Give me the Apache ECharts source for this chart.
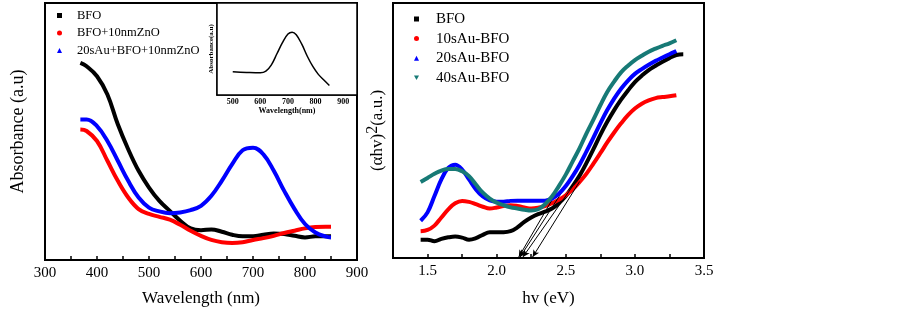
<!DOCTYPE html>
<html>
<head>
<meta charset="utf-8">
<script src="https://cdn.jsdelivr.net/npm/echarts@6/dist/echarts.min.js"></script>
<style>
html, body { margin: 0; padding: 0; background: #fff; }
#chart { width: 903px; height: 312px; }
</style>
</head>
<body>
<div id="chart"></div>
<script>
// left panel: absorbance vs wavelength (arbitrary units, 0 = bottom of frame)
const wavelength = [368, 380, 400, 420, 440, 460, 480, 500, 520, 540, 560, 580, 600, 620, 640, 660, 680, 700, 720, 740, 760, 780, 800, 820, 840, 850]
const absBFO = [0.767, 0.754, 0.715, 0.644, 0.528, 0.431, 0.347, 0.282, 0.230, 0.191, 0.153, 0.123, 0.116, 0.119, 0.110, 0.098, 0.092, 0.092, 0.098, 0.103, 0.101, 0.094, 0.088, 0.092, 0.092, 0.092]
const absBFOZnO = [0.508, 0.502, 0.463, 0.386, 0.308, 0.243, 0.198, 0.179, 0.168, 0.157, 0.137, 0.114, 0.094, 0.078, 0.069, 0.066, 0.069, 0.078, 0.085, 0.094, 0.105, 0.114, 0.123, 0.128, 0.129, 0.129]
const absAuBFOZnO = [0.547, 0.547, 0.521, 0.463, 0.386, 0.308, 0.243, 0.204, 0.189, 0.182, 0.185, 0.194, 0.211, 0.250, 0.308, 0.373, 0.427, 0.437, 0.411, 0.347, 0.269, 0.198, 0.140, 0.107, 0.091, 0.088]
const wlTicks = [300, 400, 500, 600, 700, 800, 900]

// inset: 20sAu only
const insetWavelength = [500, 550, 600, 620, 640, 660, 680, 700, 715, 730, 750, 770, 790, 810, 830, 850]
const absAu20 = [0.252, 0.245, 0.241, 0.259, 0.328, 0.448, 0.569, 0.662, 0.683, 0.655, 0.552, 0.421, 0.310, 0.224, 0.162, 0.103]
const insetTicks = [500, 600, 700, 800, 900]

// right panel: (ahv)^2 vs photon energy
const energy = [1.45, 1.5, 1.55, 1.6, 1.65, 1.7, 1.75, 1.8, 1.85, 1.9, 1.95, 2.0, 2.05, 2.1, 2.15, 2.2, 2.25, 2.3, 2.35, 2.4, 2.45, 2.5, 2.55, 2.6, 2.65, 2.7, 2.75, 2.8, 2.85, 2.9, 2.95, 3.0, 3.05, 3.1, 3.15, 3.2, 3.25, 3.3, 3.35]
const tBFO = [0.072, 0.072, 0.066, 0.075, 0.081, 0.084, 0.080, 0.072, 0.078, 0.091, 0.101, 0.101, 0.101, 0.105, 0.120, 0.142, 0.159, 0.172, 0.182, 0.194, 0.215, 0.243, 0.282, 0.323, 0.373, 0.427, 0.483, 0.534, 0.580, 0.621, 0.657, 0.690, 0.715, 0.737, 0.754, 0.770, 0.784, 0.796, 0.799]
const t10Au = [0.105, 0.110, 0.127, 0.159, 0.191, 0.215, 0.224, 0.220, 0.211, 0.201, 0.194, 0.198, 0.204, 0.207, 0.204, 0.198, 0.194, 0.197, 0.204, 0.215, 0.228, 0.246, 0.269, 0.298, 0.331, 0.370, 0.411, 0.453, 0.492, 0.528, 0.560, 0.586, 0.605, 0.618, 0.627, 0.631, 0.634, 0.638, null]
const t20Au = [0.146, 0.179, 0.243, 0.308, 0.353, 0.366, 0.347, 0.308, 0.269, 0.241, 0.226, 0.221, 0.221, 0.224, 0.225, 0.225, 0.225, 0.225, 0.225, 0.233, 0.252, 0.282, 0.321, 0.366, 0.418, 0.472, 0.528, 0.580, 0.625, 0.664, 0.696, 0.722, 0.741, 0.758, 0.773, 0.786, 0.799, 0.812, null]
const t40Au = [0.298, 0.314, 0.330, 0.343, 0.349, 0.349, 0.340, 0.321, 0.288, 0.256, 0.233, 0.217, 0.207, 0.199, 0.194, 0.189, 0.186, 0.191, 0.211, 0.241, 0.282, 0.327, 0.379, 0.431, 0.489, 0.543, 0.599, 0.651, 0.692, 0.728, 0.754, 0.776, 0.793, 0.809, 0.821, 0.832, 0.842, 0.854, null]
// tangent lines down to the energy axis (start point, intercept)
const tangentFrom = [[2.55, 0.282], [2.60, 0.300], [2.50, 0.282], [2.43, 0.255]]
const tangentTo = [2.19, 2.26, 2.17, 2.16]

const serif = 'Liberation Serif'
const zip = (xs, ys) => xs.map((x, i) => [x, ys[i]])

let chart = echarts.init(document.getElementById('chart'))

const frameAxisX = {
  axisLine: { show: true, onZero: false, lineStyle: { color: '#000', width: 2 } },
  axisTick: { inside: true, length: 4, lineStyle: { color: '#000', width: 1.5 } },
  splitLine: { show: false },
}
const frameAxisY = {
  type: 'value',
  min: 0,
  max: 1,
  axisLine: { show: true, lineStyle: { color: '#000', width: 2 } },
  axisTick: { show: false },
  axisLabel: { show: false },
  splitLine: { show: false },
}

function tauc(name, color, values, idx, symbol) {
  return {
    name: name,
    type: 'line',
    xAxisIndex: 2,
    yAxisIndex: 2,
    data: zip(energy, values),
    smooth: 0.4,
    showSymbol: false,
    symbol: symbol,
    lineStyle: { color: color, width: 4 },
    itemStyle: { color: color },
    markLine: {
      silent: true,
      symbol: ['none', 'arrow'],
      symbolSize: [5, 7],
      label: { show: false },
      lineStyle: { color: '#000', width: 1, type: 'solid' },
      data: [[{ coord: tangentFrom[idx] }, { coord: [tangentTo[idx], 0.004] }]],
    },
    z: 3 + idx,
  }
}

chart.setOption({
  animation: false,
  backgroundColor: '#fff',
  grid: [
    { left: 45, top: 3, width: 312, height: 257, show: true, borderColor: '#000', borderWidth: 2 },
    { left: 217, top: 3, width: 140, height: 92, show: true, borderColor: '#000', borderWidth: 1.5, backgroundColor: '#fff', z: 5 },
    { left: 393, top: 3, width: 311, height: 257, show: true, borderColor: '#000', borderWidth: 2 },
  ],
  legend: [
    {
      orient: 'vertical',
      left: 57,
      top: 7,
      padding: 0,
      itemWidth: 5,
      itemHeight: 5,
      itemGap: 0.5,
      data: [
        { name: 'BFO', icon: 'rect' },
        { name: 'BFO+10nmZnO', icon: 'circle' },
        { name: '20sAu+BFO+10nmZnO', icon: 'triangle' },
      ],
      textStyle: { fontFamily: serif, fontSize: 12.5, color: '#000', lineHeight: 17, padding: [0, 0, 0, 10] },
    },
    {
      orient: 'vertical',
      left: 315,
      top: 13,
      padding: 0,
      itemWidth: 3,
      itemHeight: 1,
      data: [{ name: '20sAu', icon: 'rect' }],
      textStyle: { fontFamily: serif, fontSize: 8, fontWeight: 'bold', color: '#000', padding: [0, 0, 0, 3] },
    },
    {
      orient: 'vertical',
      left: 414,
      top: 10.5,
      padding: 0,
      itemWidth: 5,
      itemHeight: 5,
      itemGap: 2.6,
      data: [
        { name: 'BFO', icon: 'rect' },
        { name: '10sAu-BFO', icon: 'circle' },
        { name: '20sAu-BFO', icon: 'triangle' },
        { name: '40sAu-BFO', icon: 'path://M0,0 L10,0 L5,9 Z' },
      ],
      textStyle: { fontFamily: serif, fontSize: 15, color: '#000', lineHeight: 17, padding: [0, 0, 0, 12] },
    },
  ],
  xAxis: [
    Object.assign({}, frameAxisX, {
      type: 'value',
      gridIndex: 0,
      min: 300,
      max: 900,
      interval: 50,
      axisLabel: {
        margin: 6,
        fontFamily: serif,
        fontSize: 15,
        color: '#000',
        formatter: (v) => (wlTicks.includes(v) ? String(v) : ''),
      },
      name: 'Wavelength (nm)',
      nameLocation: 'middle',
      nameGap: 30,
      nameTextStyle: { fontFamily: serif, fontSize: 17, color: '#000' },
    }),
    {
      type: 'value',
      gridIndex: 1,
      min: 443,
      max: 950,
      axisLine: { show: true, onZero: false, lineStyle: { color: '#000', width: 1.5 } },
      axisTick: { inside: true, length: 2, customValues: insetTicks, lineStyle: { color: '#000' } },
      splitLine: { show: false },
      axisLabel: { margin: 3, customValues: insetTicks, fontFamily: serif, fontSize: 8, fontWeight: 'bold', color: '#000' },
      name: 'Wavelength(nm)',
      nameLocation: 'middle',
      nameGap: 12,
      nameTextStyle: { fontFamily: serif, fontSize: 8, fontWeight: 'bold', color: '#000' },
    },
    Object.assign({}, frameAxisX, {
      type: 'value',
      gridIndex: 2,
      min: 1.25,
      max: 3.5,
      interval: 0.25,
      axisLabel: {
        margin: 6,
        fontFamily: serif,
        fontSize: 15,
        color: '#000',
        formatter: (v) => (Math.abs(v * 2 - Math.round(v * 2)) < 1e-6 ? v.toFixed(1) : ''),
      },
      name: 'hv (eV)',
      nameLocation: 'middle',
      nameGap: 32,
      nameTextStyle: { fontFamily: serif, fontSize: 17, color: '#000' },
    }),
  ],
  yAxis: [
    Object.assign({}, frameAxisY, {
      gridIndex: 0,
      name: 'Absorbance (a.u)',
      nameLocation: 'middle',
      nameGap: 18,
      nameTextStyle: { fontFamily: serif, fontSize: 18, color: '#000' },
    }),
    Object.assign({}, frameAxisY, {
      gridIndex: 1,
      axisLine: { show: true, lineStyle: { color: '#000', width: 1.5 } },
      name: 'Absorbance(a.u)',
      nameLocation: 'middle',
      nameGap: 2,
      nameTextStyle: { fontFamily: serif, fontSize: 7, fontWeight: 'bold', color: '#000' },
    }),
    Object.assign({}, frameAxisY, {
      gridIndex: 2,
      name: '{p|(αhv)}{s|2}{p|(a.u.)}',
      nameLocation: 'middle',
      nameGap: 3,
      nameTextStyle: {
        color: '#000',
        rich: {
          p: { fontFamily: serif, fontSize: 17, color: '#000' },
          s: { fontFamily: serif, fontSize: 16, color: '#000', padding: [0, 0, 9, 0] },
        },
      },
    }),
  ],
  series: [
    { name: 'BFO', type: 'line', xAxisIndex: 0, yAxisIndex: 0, data: zip(wavelength, absBFO), smooth: 0.4, showSymbol: false, symbol: 'rect', lineStyle: { color: '#000', width: 4 }, itemStyle: { color: '#000' }, z: 3 },
    { name: 'BFO+10nmZnO', type: 'line', xAxisIndex: 0, yAxisIndex: 0, data: zip(wavelength, absBFOZnO), smooth: 0.4, showSymbol: false, symbol: 'circle', lineStyle: { color: '#ff0000', width: 4 }, itemStyle: { color: '#ff0000' }, z: 4 },
    { name: '20sAu+BFO+10nmZnO', type: 'line', xAxisIndex: 0, yAxisIndex: 0, data: zip(wavelength, absAuBFOZnO), smooth: 0.4, showSymbol: false, symbol: 'triangle', lineStyle: { color: '#0000ff', width: 4 }, itemStyle: { color: '#0000ff' }, z: 5 },
    { name: '20sAu', type: 'line', xAxisIndex: 1, yAxisIndex: 1, data: zip(insetWavelength, absAu20), smooth: 0.4, showSymbol: false, lineStyle: { color: '#000', width: 1.5 }, itemStyle: { color: '#000' }, z: 6 },
    tauc('BFO', '#000', tBFO, 0, 'rect'),
    tauc('10sAu-BFO', '#ff0000', t10Au, 1, 'circle'),
    tauc('20sAu-BFO', '#0000ff', t20Au, 2, 'triangle'),
    tauc('40sAu-BFO', '#177a76', t40Au, 3, 'path://M0,0 L10,0 L5,9 Z'),
  ],
})
</script>
</body>
</html>
